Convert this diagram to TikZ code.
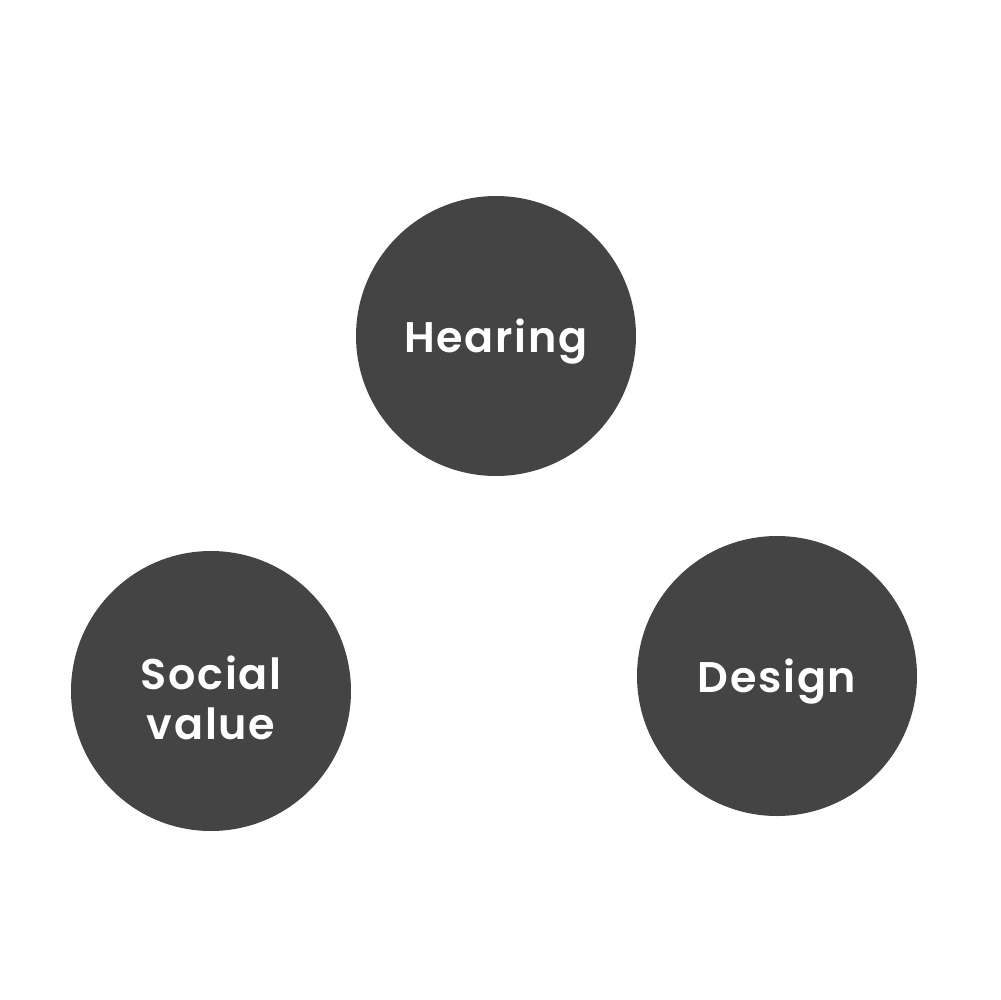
\documentclass[tikz,border=0pt]{standalone}
\usepackage{fontspec}
\setmainfont{Poppins}[UprightFont=*-SemiBold, BoldFont=*-Bold, LetterSpace=4]
\usepackage{tikz}
\definecolor{circlegray}{HTML}{444444}

\begin{document}
\begin{tikzpicture}[x=0.1mm, y=-0.1mm,
    bubble/.style={circle, fill=circlegray, minimum size=28mm, inner sep=0pt,
        text depth=0pt, text=white, align=center,
        font=\fontsize{12.2pt}{14.2pt}\selectfont}]
    \useasboundingbox (0,0) rectangle (1000,1000);
    % three topics
    \node[bubble] (hearing) at (496, 336) {Hearing};
    \node[bubble, text height=9.6mm] (social) at (211, 691) {Social\\value};
    \node[bubble] (design) at (777, 676) {Design};
\end{tikzpicture}
\end{document}
